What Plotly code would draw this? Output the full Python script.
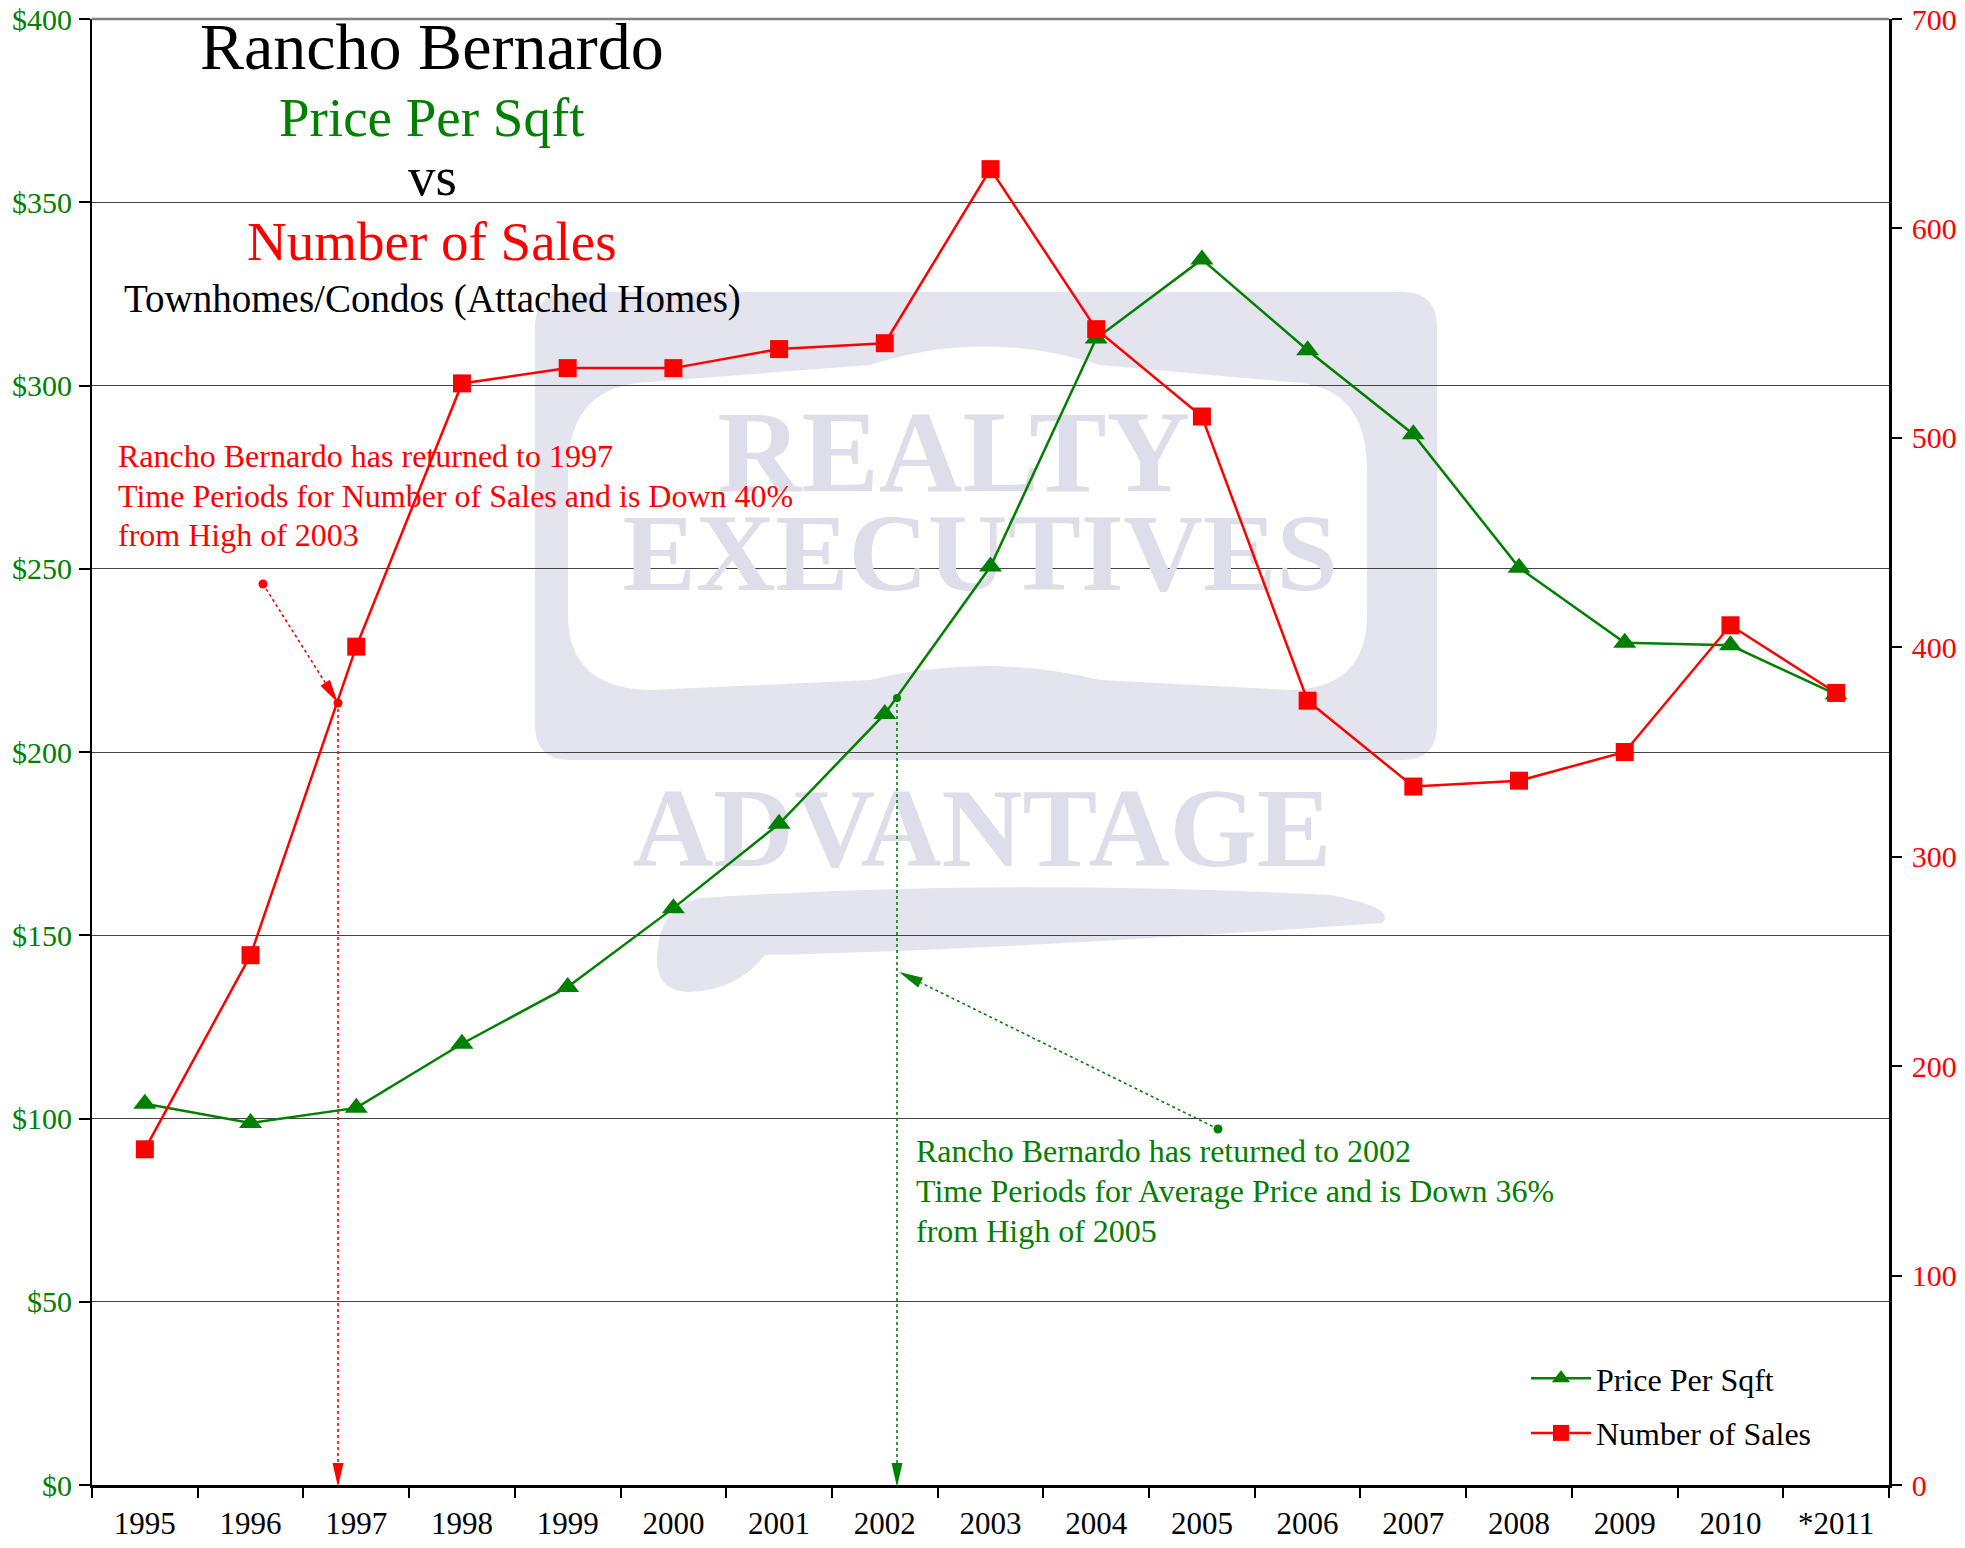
import plotly.graph_objects as go

# ---------------- data ----------------
years = ["1995", "1996", "1997", "1998", "1999", "2000", "2001", "2002", "2003",
         "2004", "2005", "2006", "2007", "2008", "2009", "2010", "*2011"]
price_per_sqft = [104, 98.8, 102.9, 120.4, 135.9, 157.4, 180.4, 210.4, 250.6,
                  312.8, 334.4, 309.6, 286.7, 250.3, 229.8, 229.1, 215.7]
number_of_sales = [160.3, 253, 400.3, 526, 533.3, 533.3, 542.4, 545.2, 628.3,
                   551.9, 510.2, 374.5, 333.5, 336.3, 350, 410.5, 378.2]
price_ticks = [0, 50, 100, 150, 200, 250, 300, 350, 400]
sales_ticks = [0, 100, 200, 300, 400, 500, 600, 700]
watermark_words = ["REALTY", "EXECUTIVES", "ADVANTAGE"]

GREEN = "#008000"
RED = "#FF0000"
FONT = "Liberation Serif, Times New Roman, serif"
WM = "#E4E4EE"

# ---------------- geometry (window pixels; page body has an 8px margin) ----------------
BODY = 8
W, H = 1965 - 2 * BODY, 1548 - 2 * BODY
PL, PR, PT, PB = 92, 1889, 19, 1485          # plot area in window pixels
ML, MT = PL - BODY, PT - BODY
MR, MB = W - ML - (PR - PL), H - MT - (PB - PT)
PW, PH = PR - PL, PB - PT
NX = len(years)


def px(X):
    return (X - PL) / PW


def py(Y):
    return (PB - Y) / PH


def dx(X):
    return (X - PL) / PW * NX - 0.5


def dy(Y):
    return (PB - Y) / PH * 400


xs = list(range(NX))

fig = go.Figure()

# watermark text (drawn first, under data lines)
fig.add_trace(go.Scatter(
    x=[dx(954), dx(980), dx(982)], y=[dy(462), dy(562), dy(838)],
    mode="text", text=watermark_words,
    textfont=dict(family=FONT, size=[116, 110, 112], color="#DEDEEA",
                  weight="bold"),
    hoverinfo="skip", showlegend=False, cliponaxis=False))

fig.add_trace(go.Scatter(
    x=xs, y=price_per_sqft, name="Price Per Sqft", mode="lines+markers",
    line=dict(color=GREEN, width=2.5),
    marker=dict(symbol="triangle-up", size=20, color=GREEN),
    yaxis="y", legendgroup="a"))
fig.add_trace(go.Scatter(
    x=xs, y=number_of_sales, name="Number of Sales", mode="lines+markers",
    line=dict(color=RED, width=2.5),
    marker=dict(symbol="square", size=18, color=RED),
    yaxis="y2", legendgroup="b"))

shapes = []


def rounded_rect(x0, y0, x1, y1, r):
    return (f"M{px(x0 + r)},{py(y0)} L{px(x1 - r)},{py(y0)} "
            f"Q{px(x1)},{py(y0)} {px(x1)},{py(y0 + r)} "
            f"L{px(x1)},{py(y1 - r)} Q{px(x1)},{py(y1)} {px(x1 - r)},{py(y1)} "
            f"L{px(x0 + r)},{py(y1)} Q{px(x0)},{py(y1)} {px(x0)},{py(y1 - r)} "
            f"L{px(x0)},{py(y0 + r)} Q{px(x0)},{py(y0)} {px(x0 + r)},{py(y0)} Z")


def path_from(cmds):
    out = []
    for c in cmds:
        if c[0] in "ML":
            out.append(f"{c[0]}{px(c[1])},{py(c[2])}")
        elif c[0] == "Q":
            out.append(f"Q{px(c[1])},{py(c[2])} {px(c[3])},{py(c[4])}")
        elif c[0] == "Z":
            out.append("Z")
    return " ".join(out)


shapes.append(dict(type="path", xref="paper", yref="paper", layer="below",
                   path=rounded_rect(535, 292, 1437, 760, 35),
                   fillcolor=WM, line=dict(width=0)))
inner = [("M", 568, 470), ("Q", 568, 385, 650, 382), ("L", 870, 365),
         ("Q", 985, 328, 1100, 365), ("L", 1290, 382), ("Q", 1367, 385, 1367, 470),
         ("L", 1367, 615), ("Q", 1367, 688, 1290, 690), ("L", 1100, 680),
         ("Q", 985, 652, 870, 680), ("L", 650, 690), ("Q", 568, 688, 568, 615), ("Z",)]
shapes.append(dict(type="path", xref="paper", yref="paper", layer="below",
                   path=path_from(inner), fillcolor="white", line=dict(width=0)))
swoosh = [("M", 700, 898), ("Q", 1000, 878, 1330, 895), ("Q", 1398, 908, 1382, 923),
          ("Q", 1000, 950, 765, 955), ("Q", 738, 990, 690, 992),
          ("Q", 655, 992, 657, 955), ("Q", 660, 905, 700, 898), ("Z",)]
shapes.append(dict(type="path", xref="paper", yref="paper", layer="below",
                   path=path_from(swoosh), fillcolor=WM, line=dict(width=0)))

# top frame line
shapes.append(dict(type="line", xref="paper", yref="paper", x0=0, x1=1, y0=1, y1=1,
                   line=dict(color="#808080", width=2.5)))


def arrow_head(tip, tail, color, length=24, half=5.5):
    ddx, ddy = tip[0] - tail[0], tip[1] - tail[1]
    d = (ddx * ddx + ddy * ddy) ** 0.5
    ux, uy = ddx / d, ddy / d
    bx, by = -length * ux, -length * uy
    nx, ny = -uy, ux
    p1 = (bx + half * nx, by + half * ny)
    p2 = (bx - half * nx, by - half * ny)
    path = f"M0,0 L{p1[0]:.2f},{-p1[1]:.2f} L{p2[0]:.2f},{-p2[1]:.2f} Z"
    shapes.append(dict(type="path", xref="paper", yref="paper", xsizemode="pixel",
                       ysizemode="pixel", xanchor=px(tip[0]), yanchor=py(tip[1]),
                       path=path, fillcolor=color, line=dict(width=0)))
    return (tip[0] + bx, tip[1] + by)


def dot(p, color, r=4.5):
    shapes.append(dict(type="circle", xref="paper", yref="paper", xsizemode="pixel",
                       ysizemode="pixel", xanchor=px(p[0]), yanchor=py(p[1]),
                       x0=-r, x1=r, y0=-r, y1=r, fillcolor=color, line=dict(width=0)))


def dotted(a, b, color):
    shapes.append(dict(type="line", xref="paper", yref="paper",
                       x0=px(a[0]), y0=py(a[1]), x1=px(b[0]), y1=py(b[1]),
                       line=dict(color=color, width=1.6, dash="dot")))


# red annotation arrows
r_start, r_target, r_bottom = (263, 584), (338, 703), (338, 1487)
base = arrow_head(r_target, r_start, RED)
dotted(r_start, base, RED)
dot(r_start, RED)
dot(r_target, RED)
base = arrow_head(r_bottom, r_target, RED)
dotted(r_target, base, RED)

# green annotation arrows
g_start, g_top, g_tip, g_bottom = (1218, 1129), (897, 698), (899, 972), (897, 1487)
base = arrow_head(g_tip, g_start, GREEN)
dotted(g_start, base, GREEN)
dot(g_start, GREEN)
dot(g_top, GREEN, r=4)
base = arrow_head(g_bottom, g_top, GREEN)
dotted(g_top, base, GREEN)

annotations = []


def text(s, X, Y, size, color, anchor="center"):
    annotations.append(dict(text=s, x=px(X), y=py(Y), xref="paper", yref="paper",
                            xanchor=anchor, yanchor="middle", showarrow=False,
                            font=dict(family=FONT, size=size, color=color)))


text("Rancho Bernardo", 432, 47, 66, "black")
text("Price Per Sqft", 432, 117, 55, GREEN)
text("vs", 432, 176, 55, "black")
text("Number of Sales", 432, 242, 55, RED)
text("Townhomes/Condos (Attached Homes)", 432, 299, 39, "black")

red_lines = ["Rancho Bernardo has returned to 1997",
             "Time Periods for Number of Sales and is Down 40%",
             "from High of 2003"]
for i, s in enumerate(red_lines):
    text(s, 116, 456 + i * 39.5, 32, RED, anchor="left")
green_lines = ["Rancho Bernardo has returned to 2002",
               "Time Periods for Average Price and is Down 36%",
               "from High of 2005"]
for i, s in enumerate(green_lines):
    text(s, 914, 1151 + i * 40, 32, GREEN, anchor="left")

fig.update_layout(
    width=W, height=H, autosize=False,
    margin=dict(l=ML, r=MR, t=MT, b=MB, pad=0, autoexpand=False),
    paper_bgcolor="white", plot_bgcolor="rgba(0,0,0,0)",
    font=dict(family=FONT, color="black"),
    shapes=shapes, annotations=annotations,
    showlegend=True,
    legend=dict(x=px(1526), y=py(1351), xanchor="left", yanchor="top",
                bgcolor="rgba(0,0,0,0)", font=dict(family=FONT, size=32, color="black"),
                traceorder="grouped", tracegroupgap=10, itemwidth=60),
    xaxis=dict(range=[-0.5, NX - 0.5], tickmode="array", tickvals=xs, ticktext=years,
               ticks="", showgrid=False, zeroline=False, automargin=False,
               ticklabeloverflow="allow",
               showline=True, linecolor="black", linewidth=3,
               tickfont=dict(family=FONT, size=31, color="black"),
               ticklabelstandoff=9,
               minor=dict(tickmode="linear", tick0=-0.5, dtick=1, ticks="outside",
                          ticklen=10, tickwidth=1.5, tickcolor="black", showgrid=False)),
    yaxis=dict(range=[0, 400], tickmode="array", tickvals=price_ticks,
               ticktext=[f"${v}" for v in price_ticks],
               ticks="outside", ticklen=11, tickwidth=1.5, tickcolor="black",
               showgrid=True, gridcolor="#444444", gridwidth=1.3, zeroline=False,
               automargin=False, ticklabeloverflow="allow",
               showline=True, linecolor="black", linewidth=2,
               tickfont=dict(family=FONT, size=30, color=GREEN),
               ticklabelstandoff=1),
    yaxis2=dict(range=[0, 700], tickmode="array", tickvals=sales_ticks,
                overlaying="y", side="right", showgrid=False, zeroline=False,
                automargin=False, ticklabeloverflow="allow",
                ticks="outside", ticklen=10, tickwidth=1.5, tickcolor="black",
                showline=True, linecolor="black", linewidth=2.5,
                tickfont=dict(family=FONT, size=30, color=RED),
                ticklabelstandoff=4),
)

fig.write_html("out.html", config={"displayModeBar": False})
